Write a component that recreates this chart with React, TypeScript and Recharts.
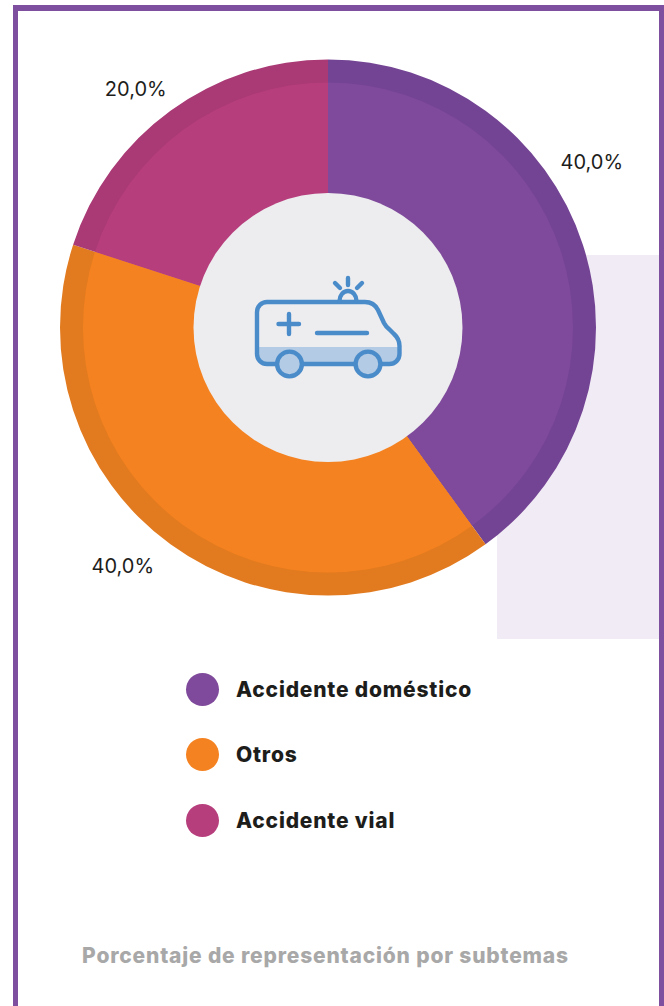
import React from "react";
import { PieChart, Pie, Cell, Legend } from "recharts";

const categories = ["Accidente doméstico", "Otros", "Accidente vial"];
const values = [40, 40, 20];
const valueLabels = ["40,0%", "40,0%", "20,0%"];
const innerColors = ["#7f4a9b", "#f58220", "#b73e7c"];
const outerColors = ["#744494", "#e27b1f", "#a93a75"];
const labelNudges = [[-31, -70], [-23, -12], [-10, 12]];

const data = categories.map((name, i) => ({ name, value: values[i] }));
const FONT = "Inter, 'Noto Sans', sans-serif";
const ICON = "#4a8bca";
const CX = 328;
const CY = 327.5;

function renderLabel(p: any) {
  const a = (-p.midAngle * Math.PI) / 180;
  const r = 310;
  const n = labelNudges[p.index];
  return (
    <text
      x={p.cx + r * Math.cos(a) + n[0]}
      y={p.cy + r * Math.sin(a) + n[1]}
      textAnchor="middle"
      dominantBaseline="central"
      fontFamily={FONT}
      fontSize={20}
      fill="#1d1d1b"
    >
      {valueLabels[p.index]}
    </text>
  );
}

function LegendList() {
  return (
    <div style={{ width: 400 }}>
      {categories.map((name, i) => (
        <div key={name} style={{ height: 65.5, display: "flex", alignItems: "center" }}>
          <span style={{ width: 33, height: 33, borderRadius: "50%", background: innerColors[i], display: "block", marginLeft: 0.5 }} />
          <span style={{ marginLeft: 17.5, fontFamily: FONT, fontWeight: 800, fontSize: 21, letterSpacing: 0.8, color: "#1d1d1b" }}>{name}</span>
        </div>
      ))}
    </div>
  );
}

export default function App() {
  return (
    <div style={{ position: "absolute", left: 0, top: 0, width: 664, height: 1006, overflow: "hidden", background: "#fff" }}>
      <div style={{ position: "absolute", left: 497, top: 255, width: 162, height: 384, background: "#f0ebf4" }} />
      <div style={{ position: "absolute", left: 13, top: 5, width: 640.5, height: 1010, borderLeft: "5.5px solid #7f4f9f", borderTop: "6px solid #7f4f9f", borderRight: "5.5px solid #7f4f9f" }} />
      <div style={{ position: "absolute", left: 0, top: 0 }}>
        <PieChart width={664} height={1006} margin={{ top: 0, right: 0, bottom: 0, left: 0 }}>
          <Pie data={data} dataKey="value" cx={CX} cy={CY} innerRadius={130} outerRadius={268} startAngle={90} endAngle={-270} stroke="none" legendType="none" isAnimationActive={false} label={renderLabel} labelLine={false}>
            {data.map((d, i) => <Cell key={d.name} fill={outerColors[i]} />)}
          </Pie>
          <Pie data={data} dataKey="value" cx={CX} cy={CY} innerRadius={130} outerRadius={245} startAngle={90} endAngle={-270} stroke="none" isAnimationActive={false}>
            {data.map((d, i) => <Cell key={d.name} fill={innerColors[i]} />)}
          </Pie>
          <Legend content={<LegendList />} layout="vertical" wrapperStyle={{ position: "absolute", left: 185, top: 656.5, width: 400, bottom: "auto", right: "auto" }} />
        </PieChart>
      </div>
      <svg width={664} height={1006} style={{ position: "absolute", left: 0, top: 0, pointerEvents: "none" }}>
        <circle cx={CX} cy={CY} r={134.5} fill="#ededef" />
        <path d="M258 347 H399 V356 a8 8 0 0 1 -8 8 H266 a8 8 0 0 1 -8 -8 Z" fill="#b3cbe4" />
        <g fill="none" stroke={ICON} strokeWidth={4.4} strokeLinecap="round" strokeLinejoin="round">
          <path d="M276 364 H267 a10 10 0 0 1 -10 -10 V312 a10 10 0 0 1 10 -10 H365 q9 0 13 8 L384 323 q2 4 6 7 L394 334 q5.5 5 5.5 12 V354 a10 10 0 0 1 -10 10 H381" />
          <path d="M302 364 H355" />
          <circle cx={289.5} cy={364} r={12.4} fill="#b3cbe4" />
          <circle cx={368} cy={364} r={12.4} fill="#b3cbe4" />
          <path d="M278.5 324 H299 M289 314 V334" />
          <path d="M317 333 H367" />
          <path d="M339.5 301 a8.5 10 0 0 1 17 0" />
          <path d="M348 278 V285 M335 283 L340 288 M362 283 L357 288" />
        </g>
      </svg>
      <div style={{ position: "absolute", left: 0, top: 943, width: 651, textAlign: "center", fontFamily: FONT, fontWeight: 800, fontSize: 21, letterSpacing: 0.82, color: "#a8a8a8", whiteSpace: "nowrap" }}>
        Porcentaje de representación por subtemas
      </div>
    </div>
  );
}
